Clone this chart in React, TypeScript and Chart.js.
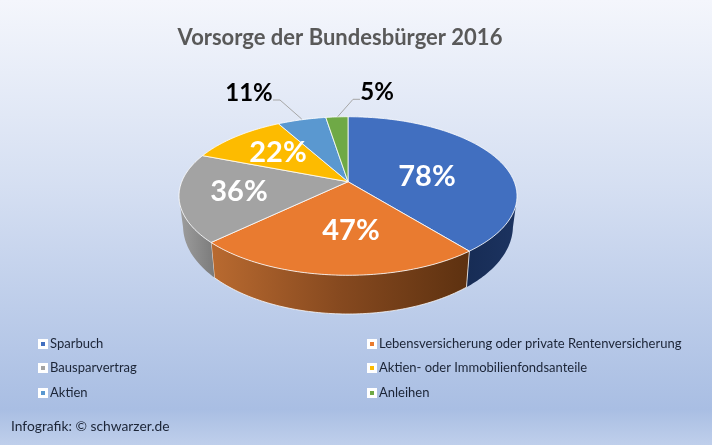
import React, { useEffect, useRef } from "react";
import { Chart, registerables } from "chart.js";

Chart.register(...registerables);

const categories = [
  "Sparbuch",
  "Lebensversicherung oder private Rentenversicherung",
  "Bausparvertrag",
  "Aktien- oder Immobilienfondsanteile",
  "Aktien",
  "Anleihen",
];
const percentages = [78, 47, 36, 22, 11, 5];
const sliceColors = ["#416fc0", "#e97b30", "#a3a3a3", "#fdbb00", "#5a98d0", "#6fa946"];
const titleText = "Vorsorge der Bundesbürger 2016";
const creditText = "Infografik: © schwarzer.de";

const FONT = "Lato, Carlito, sans-serif";
const TILT = 0.469; // ellipse height / width of the top face
const APEX_SHIFT = -0.18; // perspective: where the centre of the disc lands
const LOWER = { dy: 30, rx: 0.976, ry: 88 / 169 };

const labelStyle = [
  { x: 427, y: 177, color: "#fff", size: 29 },
  { x: 351, y: 231, color: "#fff", size: 29 },
  { x: 239, y: 192, color: "#fff", size: 29 },
  { x: 278, y: 153, color: "#fff", size: 29 },
  { x: 249, y: 93, color: "#000", size: 24 },
  { x: 377, y: 92, color: "#000", size: 24 },
];
const leaders = [
  null,
  null,
  null,
  null,
  [[273, 100], [280, 100], [301.7, 119]],
  [[360, 99.3], [353, 99.3], [337.7, 116.7]],
];
const legendSlots = [
  { x: 38, y: 344 }, { x: 367, y: 344 },
  { x: 38, y: 368 }, { x: 367, y: 368 },
  { x: 38, y: 393 }, { x: 367, y: 393 },
];

// Perspective map of the unit disc: straight lines stay straight, the rim stays the rim.
function warp(angle: number, f = 1) {
  const x = f * Math.cos(angle);
  const y = f * Math.sin(angle);
  const d = 1 + APEX_SHIFT * y;
  return { x: (x * Math.sqrt(1 - APEX_SHIFT * APEX_SHIFT)) / d, y: (y + APEX_SHIFT) / d };
}

const piePlugin = {
  id: "perspectivePie",
  beforeDraw(chart: any) {
    const { ctx, width, height } = chart;
    const g = ctx.createLinearGradient(0, 0, 0, height);
    g.addColorStop(0, "#f4f6fc");
    g.addColorStop(0.42, "#d5dff2");
    g.addColorStop(0.92, "#a9bee3");
    g.addColorStop(1, "#bfcfeb");
    ctx.save();
    ctx.fillStyle = g;
    ctx.fillRect(0, 0, width, height);
    ctx.textBaseline = "middle";
    ctx.textAlign = "center";
    ctx.fillStyle = "#595959";
    ctx.font = `bold 22px ${FONT}`;
    ctx.fillText(titleText, 340, 38);
    ctx.restore();
  },
  beforeDatasetsDraw(chart: any) {
    const { ctx } = chart;
    const arcs = chart.getDatasetMeta(0).data;
    const top = (p: { x: number; y: number }, el: any) => ({
      x: el.x + p.x * el.outerRadius,
      y: el.y + p.y * el.outerRadius * TILT,
    });
    const low = (p: { x: number; y: number }, el: any) => ({
      x: el.x + p.x * el.outerRadius * LOWER.rx,
      y: el.y + LOWER.dy + p.y * el.outerRadius * LOWER.ry,
    });
    const sample = (el: any) => {
      const n = Math.max(8, Math.ceil(((el.endAngle - el.startAngle) * 180) / Math.PI));
      const out = [];
      for (let i = 0; i <= n; i++) out.push(warp(el.startAngle + ((el.endAngle - el.startAngle) * i) / n));
      return out;
    };
    ctx.save();
    ctx.lineJoin = "round";
    // side wall
    arcs.forEach((el: any, i: number) => {
      const rim = sample(el).filter((p) => p.y >= 0);
      if (rim.length < 2) return;
      const t = rim.map((p) => top(p, el));
      const b = rim.map((p) => low(p, el)).reverse();
      const xs = t.concat(b).map((p) => p.x);
      const g = ctx.createLinearGradient(Math.min(...xs), 0, Math.max(...xs), 0);
      if (i === 0) {
        g.addColorStop(0, "#172c55");
        g.addColorStop(1, "#1c3360");
      } else if (i === 1) {
        g.addColorStop(0, "#b96a30");
        g.addColorStop(0.5, "#86491f");
        g.addColorStop(1, "#5d3110");
      } else {
        g.addColorStop(0, "#9e9e9e");
        g.addColorStop(1, "#7b7b7b");
      }
      ctx.beginPath();
      t.concat(b).forEach((p, k) => (k ? ctx.lineTo(p.x, p.y) : ctx.moveTo(p.x, p.y)));
      ctx.closePath();
      ctx.fillStyle = g;
      ctx.fill();
      if (i === 1) {
        ctx.strokeStyle = "rgba(255,255,255,0.75)";
        ctx.lineWidth = 1;
        ctx.beginPath();
        ctx.moveTo(t[0].x, t[0].y);
        ctx.lineTo(b[b.length - 1].x, b[b.length - 1].y);
        ctx.moveTo(t[t.length - 1].x, t[t.length - 1].y);
        ctx.lineTo(b[0].x, b[0].y);
        ctx.moveTo(b[0].x, b[0].y);
        b.forEach((p) => ctx.lineTo(p.x, p.y));
        ctx.stroke();
      }
    });
    // top face
    arcs.forEach((el: any, i: number) => {
      const apex = top({ x: 0, y: APEX_SHIFT }, el);
      ctx.beginPath();
      ctx.moveTo(apex.x, apex.y);
      sample(el).forEach((p) => {
        const q = top(p, el);
        ctx.lineTo(q.x, q.y);
      });
      ctx.closePath();
      ctx.fillStyle = sliceColors[i];
      ctx.fill();
      ctx.strokeStyle = "rgba(255,255,255,0.8)";
      ctx.lineWidth = 1;
      ctx.stroke();
    });
    ctx.restore();
    return false;
  },
  afterDraw(chart: any) {
    const { ctx } = chart;
    ctx.save();
    leaders.forEach((line) => {
      if (!line) return;
      ctx.beginPath();
      line.forEach(([x, y], k) => (k ? ctx.lineTo(x, y) : ctx.moveTo(x, y)));
      ctx.strokeStyle = "#a6a6a6";
      ctx.lineWidth = 1;
      ctx.stroke();
    });
    ctx.textBaseline = "middle";
    ctx.textAlign = "center";
    percentages.forEach((v, i) => {
      ctx.font = `bold ${labelStyle[i].size}px ${FONT}`;
      ctx.fillStyle = labelStyle[i].color;
      ctx.fillText(`${v}%`, labelStyle[i].x, labelStyle[i].y);
    });
    ctx.textAlign = "left";
    ctx.font = `13px ${FONT}`;
    chart.data.labels.forEach((label: string, i: number) => {
      const s = legendSlots[i];
      ctx.fillStyle = "#ffffff";
      ctx.fillRect(s.x, s.y - 5, 10, 10);
      ctx.fillStyle = sliceColors[i];
      ctx.fillRect(s.x + 3, s.y - 2, 4, 4);
      ctx.fillStyle = "#1b2436";
      ctx.fillText(label, s.x + 12, s.y);
    });
    ctx.font = `13.8px ${FONT}`;
    ctx.fillText(creditText, 11, 427);
    ctx.restore();
  },
};

export default function App() {
  const ref = useRef<HTMLCanvasElement>(null);
  useEffect(() => {
    document.body.style.margin = "0";
    const chart = new Chart(ref.current as HTMLCanvasElement, {
      type: "pie",
      data: {
        labels: categories,
        datasets: [{ data: percentages, backgroundColor: sliceColors, borderWidth: 0 }],
      },
      options: {
        responsive: false,
        animation: false,
        layout: { padding: { left: 179, right: 195, top: 27, bottom: 80 } },
        plugins: { legend: { display: false }, tooltip: { enabled: false }, title: { display: false } },
      },
      plugins: [piePlugin],
    } as any);
    return () => chart.destroy();
  }, []);
  return <canvas ref={ref} width={712} height={445} style={{ display: "block" }} />;
}
